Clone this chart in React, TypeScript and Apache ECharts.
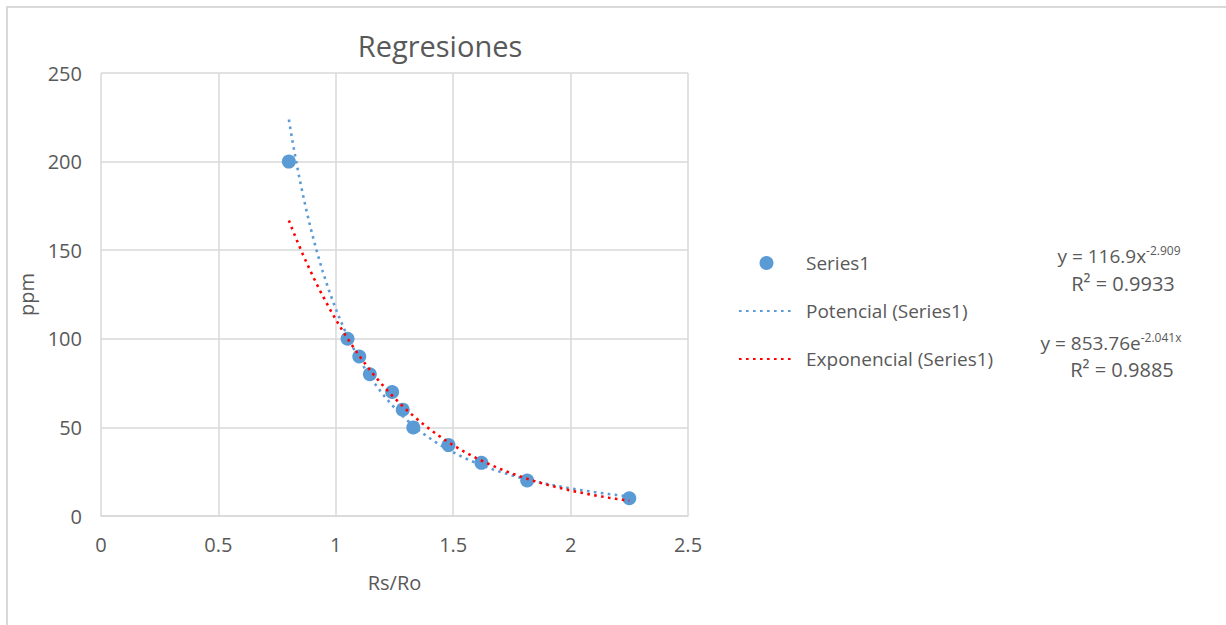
import React, { useEffect, useRef } from "react";
import * as echarts from "echarts";

const xValues = [0.8, 1.05, 1.1, 1.145, 1.24, 1.285, 1.33, 1.48, 1.62, 1.815, 2.25];
const yValues = [200, 100, 90, 80, 70, 60, 50, 40, 30, 20, 10];

// trendline coefficients as displayed by the chart
const powerA = 116.9;
const powerB = -2.909;
const powerR2 = "0.9933";
const expA = 853.76;
const expB = -2.041;
const expR2 = "0.9885";

const xTicks = [0, 0.5, 1, 1.5, 2, 2.5];
const yTicks = [0, 50, 100, 150, 200, 250];

const FONT = "'Open Sans', sans-serif";
const TEXT = "#595959";
const BLUE = "#5b9bd5";
const RED = "#ff0000";

function trend(fn: (x: number) => number): number[][] {
  const xmin = Math.min(...xValues);
  const xmax = Math.max(...xValues);
  const n = 100;
  const out: number[][] = [];
  for (let i = 0; i <= n; i++) {
    const x = xmin + ((xmax - xmin) * i) / n;
    out.push([x, fn(x)]);
  }
  return out;
}

export default function App() {
  const ref = useRef<HTMLDivElement>(null);
  useEffect(() => {
    if (!ref.current) return;
    const chart = echarts.init(ref.current, null, { renderer: "svg" });
    const scatterData = xValues.map((x, i) => [x, yValues[i]]);
    const powerData = trend((x) => powerA * Math.pow(x, powerB));
    const expData = trend((x) => expA * Math.exp(expB * x));
    const rich = {
      a: { fontSize: 19, fontFamily: FONT, fill: TEXT, color: TEXT, lineHeight: 24 },
      s: { fontSize: 12, fontFamily: FONT, fill: TEXT, color: TEXT, lineHeight: 12, verticalAlign: "top" as const },
    };
    const eqText = (x: number, y: number, text: string) => ({
      type: "text",
      x,
      y,
      style: { text, rich, fill: TEXT, align: "center", verticalAlign: "middle" } as any,
    });
    const r2Text = (x: number, y: number, text: string) => ({
      type: "text",
      x,
      y,
      style: {
        text,
        fill: TEXT,
        fontFamily: FONT,
        fontSize: 20,
        align: "center",
        verticalAlign: "middle",
      } as any,
    });
    chart.setOption({
      animation: false,
      backgroundColor: "#ffffff",
      title: {
        text: "Regresiones",
        left: 435,
        top: 26,
        textAlign: "center",
        textStyle: { fontFamily: FONT, fontSize: 29, fontWeight: "normal", color: TEXT },
      },
      grid: { left: 101, top: 73, width: 587, height: 443, containLabel: false },
      xAxis: {
        type: "value",
        min: xTicks[0],
        max: xTicks[xTicks.length - 1],
        interval: xTicks[1] - xTicks[0],
        name: "Rs/Ro",
        nameLocation: "middle",
        nameGap: 56,
        nameTextStyle: { fontFamily: FONT, fontSize: 20, color: TEXT },
        axisLine: { show: true, lineStyle: { color: "#d9d9d9", width: 1.5 } },
        axisTick: { show: false },
        axisLabel: { fontFamily: FONT, fontSize: 20, color: TEXT, margin: 18 },
        splitLine: { show: true, lineStyle: { color: "#d9d9d9", width: 1.5 } },
      },
      yAxis: {
        type: "value",
        min: yTicks[0],
        max: yTicks[yTicks.length - 1],
        interval: yTicks[1] - yTicks[0],
        name: "ppm",
        nameLocation: "middle",
        nameGap: 65,
        nameTextStyle: { fontFamily: FONT, fontSize: 20, color: TEXT },
        axisLine: { show: false },
        axisTick: { show: false },
        axisLabel: { fontFamily: FONT, fontSize: 20, color: TEXT, margin: 19 },
        splitLine: { show: true, lineStyle: { color: "#d9d9d9", width: 1.5 } },
      },
      legend: {
        orient: "vertical",
        left: 733,
        top: 248,
        itemWidth: 55,
        itemHeight: 14,
        itemGap: 28,
        textStyle: { fontFamily: FONT, fontSize: 19, color: TEXT, lineHeight: 20, padding: [0, 0, 0, 7] },
        data: [
          { name: "Series1" },
          { name: "Potencial (Series1)", itemStyle: { opacity: 0 } },
          { name: "Exponencial (Series1)", itemStyle: { opacity: 0 } },
        ],
      },
      series: [
        {
          name: "Series1",
          type: "scatter",
          symbol: "circle",
          symbolSize: 14,
          itemStyle: { color: BLUE, opacity: 1 },
          data: scatterData,
        },
        {
          name: "Potencial (Series1)",
          type: "line",
          symbol: "none",
          showSymbol: false,
          itemStyle: { color: BLUE },
          lineStyle: { color: BLUE, width: 2.6, type: [2.6, 4.4] },
          data: powerData,
        },
        {
          name: "Exponencial (Series1)",
          type: "line",
          symbol: "none",
          showSymbol: false,
          itemStyle: { color: RED },
          lineStyle: { color: RED, width: 2.6, type: [2.6, 4.4] },
          data: expData,
        },
      ],
      graphic: [
        {
          type: "rect",
          shape: { x: 7, y: 7, width: 1300, height: 700 },
          style: { fill: "none", stroke: "#d9d9d9", lineWidth: 2 },
          silent: true,
        },
        eqText(1119, 256, `{a|y = ${powerA}x}{s|${powerB}}`),
        r2Text(1123, 283, `R² = ${powerR2}`),
        eqText(1111, 343, `{a|y = ${expA}e}{s|${expB}x}`),
        r2Text(1122, 369, `R² = ${expR2}`),
      ],
    });
    return () => chart.dispose();
  }, []);
  return (
    <div
      ref={ref}
      style={{ position: "absolute", left: 0, top: 0, width: 1226, height: 625 }}
    />
  );
}
